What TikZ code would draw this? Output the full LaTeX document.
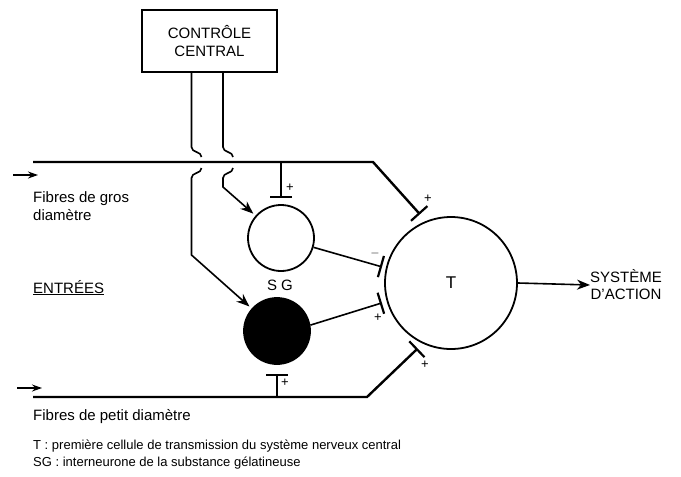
\documentclass[tikz,border=0pt]{standalone}
\usepackage{fontspec}
\setmainfont{Liberation Sans}
\usetikzlibrary{arrows.meta}
\usetikzlibrary{calc}

\begin{document}
\begin{tikzpicture}[x=1pt, y=-1pt,
    txt/.style={font=\fontsize{15}{18}\selectfont, inner sep=0pt},
    sign/.style={font=\fontsize{13}{13}\selectfont, inner sep=0pt},
    fibre/.style={line width=2.4pt},
    nerf/.style={line width=1.6pt},
    inh/.style={line width=1.6pt, -{Bar[width=22pt,line width=2.2pt]}},
    exc/.style={line width=1.6pt, -{Stealth[length=13pt,width=10pt]}},
    cell/.style={circle, draw, line width=1.8pt, inner sep=0pt, minimum size=66pt}]
    \useasboundingbox (0,0) rectangle (681,477);
    % cellules
    \node[draw, line width=1.6pt, minimum width=135pt, minimum height=62pt, txt, align=center] (ctrl) at (209.5,41) {CONTRÔLE\\CENTRAL};
    \node[cell] (sgw) at (281,238) {};
    \node[cell, fill=black] (sgn) at (277,331) {};
    \node[cell, minimum size=132pt, font=\fontsize{17}{17}\selectfont] (t) at (451,283) {T};
    \node[txt, anchor=base] (sglbl) at (280,290) {S G};
    \node[txt, align=center, anchor=west, font=\fontsize{15}{17}\selectfont] (action) at (590,285) {SYSTÈME\\D'ACTION};
    % fibres
    \coordinate (gros) at (33,162);
    \coordinate (grosC) at (373,162);
    \coordinate (petit) at (33,397);
    \coordinate (petitC) at (367,397);
    \draw[fibre, -{Bar[width=22pt,line width=2.2pt]}, shorten >=9pt] (gros) -- (grosC) -- (t.112);
    \draw[fibre, -{Bar[width=22pt,line width=2.2pt]}, shorten >=7pt] (petit) -- (petitC) -- (t.245);
    \draw[inh, shorten >=6pt] (sgw.north |- gros) -- (sgw.north);
    \draw[inh, shorten >=9pt] (sgn.south |- petit) -- (sgn.south);
    % controle central
    \draw[exc, shorten >=3pt] ([xshift=-18pt]ctrl.south) -- (191.5,147)
        .. controls (191.5,153) and (201.5,151) .. (201.5,157)
        (201.5,168) .. controls (201.5,174) and (191.5,172) .. (191.5,178) -- (191.5,255) -- (sgn);
    \draw[exc, shorten >=3pt] ([xshift=13.5pt]ctrl.south) -- (223,147)
        .. controls (223,153) and (233,151) .. (233,157)
        (233,168) .. controls (233,174) and (223,172) .. (223,178) -- (223,187) -- (sgw);
    % vers T
    \draw[inh, shorten >=4pt] (sgw.-16) -- (t.167);
    \draw[inh, shorten >=5pt] (sgn.10) -- (t.196);
    \draw[exc] (t.east) -- (action.west);
    % entrees
    \coordinate (inGa) at (13,175);
    \coordinate (inGb) at (38,175);
    \coordinate (inPa) at (17,388);
    \coordinate (inPb) at (42,388);
    \draw[line width=1.4pt, -{Stealth[length=10pt,width=7pt]}] (inGa) -- (inGb);
    \draw[line width=1.4pt, -{Stealth[length=10pt,width=7pt]}] (inPa) -- (inPb);
    % signes
    \node[sign] (s1) at (290,188) {+};
    \node[sign] (s2) at (428,199) {+};
    \node[sign] (s3) at (375,253) {$-$};
    \node[sign] (s4) at (378,318) {+};
    \node[sign] (s5) at (285,383) {+};
    \node[sign] (s6) at (425,365) {+};
    % textes
    \node[txt, anchor=north west, align=left] (groslbl) at (33,191) {Fibres de gros\\diamètre};
    \node[txt, anchor=base west] (entrees) at (33,293) {\underline{ENTRÉES}};
    \node[txt, anchor=base west] (petitlbl) at (33,420) {Fibres de petit diamètre};
    \node[font=\fontsize{13}{17}\selectfont, inner sep=0pt, anchor=north west, align=left] (legende) at (33,439.5)
        {T : première cellule de transmission du système nerveux central\\SG : interneurone de la substance gélatineuse};
\end{tikzpicture}
\end{document}
